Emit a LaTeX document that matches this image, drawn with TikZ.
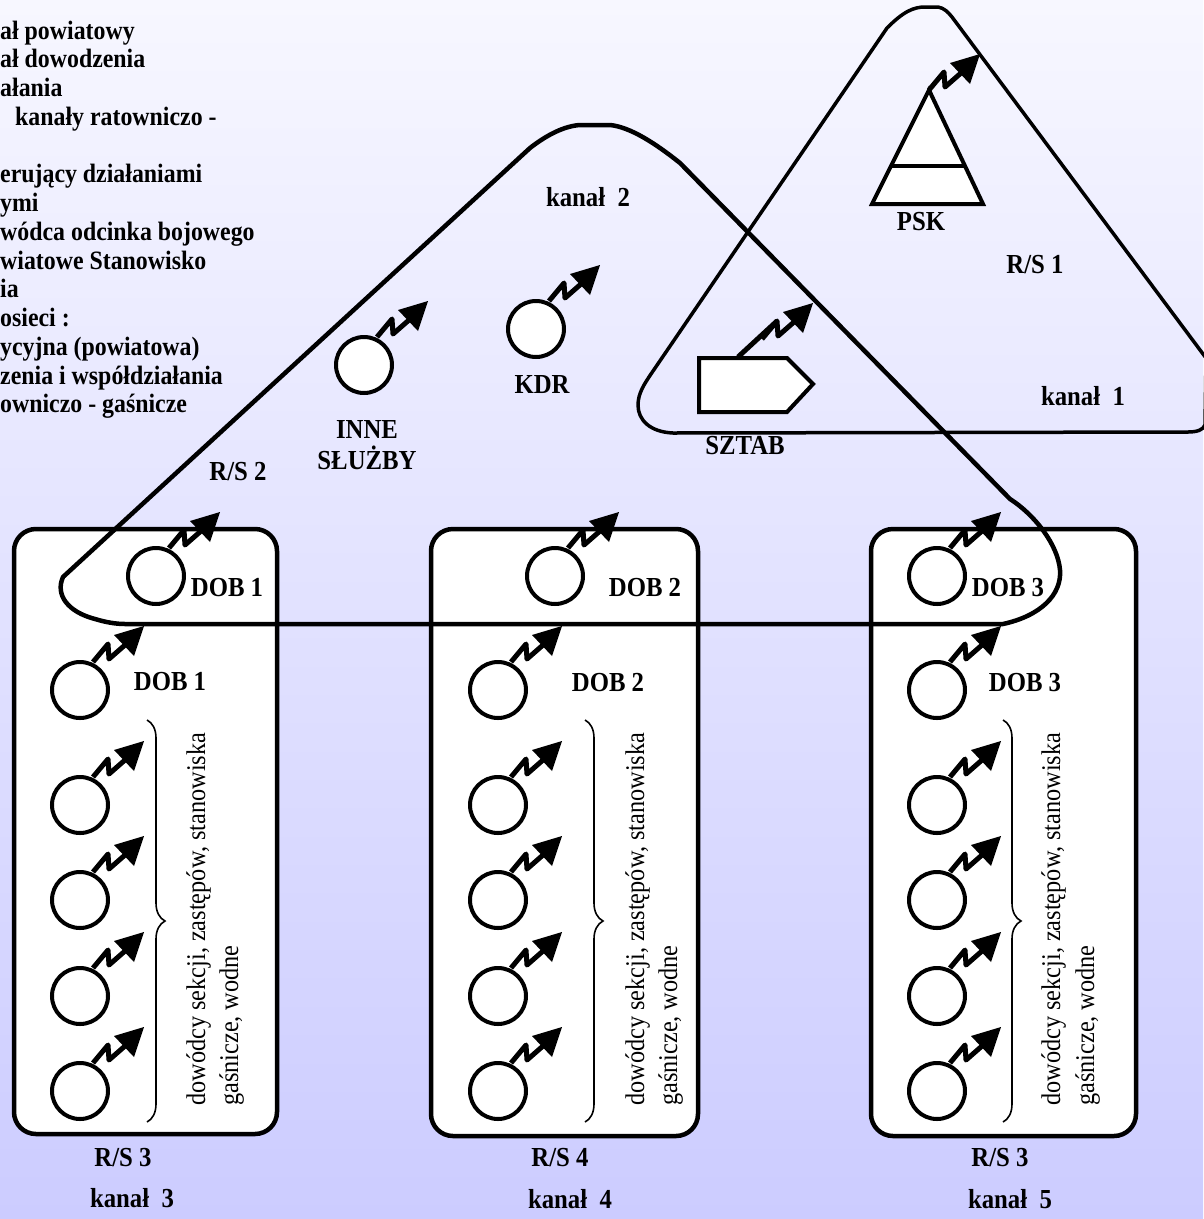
\documentclass[tikz,border=0pt]{standalone}
\usepackage{fontspec}
\setmainfont{Liberation Serif}[FakeStretch=0.9]
\usetikzlibrary{decorations.pathreplacing}
\definecolor{bgtop}{RGB}{247,247,255}
\definecolor{bgbot}{RGB}{204,204,255}
\tikzset{
  antenna/.pic={
    \draw[line width=5pt, line join=round] (0,0) -- (15,-18) -- (16,-3) -- (32,-17);
    \fill (51,-36) -- (41,-6) -- (21,-27) -- cycle;
  }
}
\begin{document}
\begin{tikzpicture}[x=1pt,y=-1pt,
  lab/.style={font=\fontsize{27.5}{30}\selectfont\bfseries, inner sep=0pt},
  leg/.style={font=\fontsize{26.5}{29}\selectfont\bfseries, inner sep=0pt, anchor=base west},
  rot/.style={font=\fontsize{27}{30}\selectfont, inner sep=0pt, rotate=90, anchor=base west},
  circ/.style={circle, draw, fill=white, line width=4pt, minimum size=56pt, inner sep=0pt},
  rsbox/.style={draw, fill=white, line width=4.5pt, rounded corners=22pt, inner sep=0pt},
  outline/.style={line width=4.5pt, line join=round},
  triline/.style={line width=3.5pt, line join=round},
  brc/.style={decorate, decoration={brace, amplitude=18pt}, line width=1.6pt},
  sym/.style={draw, fill=white, line width=4pt, line join=miter},
]
\useasboundingbox (0,0) rectangle (1203,1219);
\shade[top color=bgtop, bottom color=bgbot] (0,0) rectangle (1203,1219);

% legend (cropped at the left edge)
\node[leg] (leg1) at (0,39) {ał powiatowy};
\node[leg] (leg2) at (0,67.75) {ał dowodzenia};
\node[leg] (leg3) at (0,96.5) {ałania};
\node[leg] (leg4) at (15,125.25) {kanały ratowniczo -};
\node[leg] (leg5) at (0,182.75) {erujący działaniami};
\node[leg] (leg6) at (0,211.5) {ymi};
\node[leg] (leg7) at (0,240.25) {wódca odcinka bojowego};
\node[leg] (leg8) at (0,269) {wiatowe Stanowisko};
\node[leg] (leg9) at (0,297.75) {ia};
\node[leg] (leg10) at (0,326.5) {osieci :};
\node[leg] (leg11) at (0,355.25) {ycyjna (powiatowa)};
\node[leg] (leg12) at (0,384) {zenia i współdziałania};
\node[leg] (leg13) at (0,412.75) {owniczo - gaśnicze};

% R/S boxes
\node[rsbox, minimum width=263pt, minimum height=605pt] (box1) at (145.5,831.5) {};
\node[rsbox, minimum width=267pt, minimum height=607pt] (box2) at (564.5,832.5) {};
\node[rsbox, minimum width=265pt, minimum height=607pt] (box3) at (1003.5,832.5) {};

% R/S 1 outline (triangle)
\draw[triline] (887,28) .. controls (903,12) and (913,7) .. (925,7) -- (938,7)
  .. controls (944,8) and (948,12) .. (952,17) -- (1206,358) -- (1205,425)
  .. controls (1203,430) and (1197,432) .. (1188,432) -- (673,433)
  .. controls (650,432) and (638,420) .. (638,405)
  .. controls (638,393) and (645,383) .. (651,374) -- cycle;

% kanal 2 outline
\draw[outline] (125,624) -- (1003,624)
  .. controls (1040,616) and (1062,595) .. (1060,570)
  .. controls (1058,545) and (1035,515) .. (1010,499) -- (680,163)
  .. controls (655,143) and (630,127) .. (610,125) -- (580,125)
  .. controls (565,126) and (548,134) .. (530,148) -- (63,577)
  .. controls (55,595) and (68,612) .. (95,619)
  .. controls (105,622) and (115,624) .. (125,624) -- cycle;

% PSK symbol
\draw[sym] (929,90) -- (983,204) -- (872,204) -- cycle;
\draw[line width=4pt] (891,166) -- (965,166);
\coordinate (pskTop) at (929,90);
\pic at (pskTop) {antenna};
\node[lab] (psk) at (921,222) {PSK};

% SZTAB symbol
\draw[sym] (699,358) -- (787,358) -- (813,384) -- (787,412) -- (699,412) -- cycle;
\coordinate (sztabTop) at (738,357);
\coordinate (sztabAnt) at (762,339);
\draw[line width=5pt] (sztabTop) -- (777,321);
\pic at (sztabAnt) {antenna};
\node[lab] (sztab) at (745,446) {SZTAB};

% KDR and INNE SLUZBY
\node[circ] (kdr) at (536,329) {};
\node[circ] (inne) at (364,365) {};
\pic at ([shift={(13,-28)}]kdr.center) {antenna};
\pic at ([shift={(13,-28)}]inne.center) {antenna};
\node[lab] (kdrl) at (542,385) {KDR};
\node[lab] (innel) at (367,429) {INNE};
\node[lab] (sluzbyl) at (367,458) {SŁUŻBY};

% area labels
\node[lab] (k2) at (588,197) {kanał\ \ 2};
\node[lab] (rs1) at (1035,265) {R/S 1};
\node[lab] (k1) at (1083,396) {kanał\ \ 1};
\node[lab] (rs2) at (238,472) {R/S 2};

% box 1 circles
\node[circ] (a0) at (156,576) {};
\node[circ] (a1) at (80,690) {};
\node[circ] (a2) at (80,805) {};
\node[circ] (a3) at (80,900) {};
\node[circ] (a4) at (80,996) {};
\node[circ] (a5) at (80,1091) {};
% box 2 circles
\node[circ] (b0) at (555,576) {};
\node[circ] (b1) at (498,690) {};
\node[circ] (b2) at (498,805) {};
\node[circ] (b3) at (498,900) {};
\node[circ] (b4) at (498,996) {};
\node[circ] (b5) at (498,1091) {};
% box 3 circles
\node[circ] (c0) at (937,576) {};
\node[circ] (c1) at (937,690) {};
\node[circ] (c2) at (937,805) {};
\node[circ] (c3) at (937,900) {};
\node[circ] (c4) at (937,996) {};
\node[circ] (c5) at (937,1091) {};
\foreach \n in {a0,a1,a2,a3,a4,a5,b0,b1,b2,b3,b4,b5,c0,c1,c2,c3,c4,c5}{
  \pic at ([shift={(13,-28)}]\n.center) {antenna};
}

\node[lab] (la0) at (227,588) {DOB 1};
\node[lab] (la1) at (170,682) {DOB 1};
\node[lab] (lb0) at (645,588) {DOB 2};
\node[lab] (lb1) at (608,683) {DOB 2};
\node[lab] (lc0) at (1008,588) {DOB 3};
\node[lab] (lc1) at (1025,683) {DOB 3};

% braces
\coordinate (ba1) at (147,720); \coordinate (ba2) at (147,1122);
\coordinate (bb1) at (585,720); \coordinate (bb2) at (585,1122);
\coordinate (bc1) at (1003,720); \coordinate (bc2) at (1003,1122);
\draw[brc] (ba1) -- (ba2);
\draw[brc] (bb1) -- (bb2);
\draw[brc] (bc1) -- (bc2);

% rotated descriptions
\node[rot] (ta1) at (205,1106) {dowódcy sekcji, zastępów, stanowiska};
\node[rot] (ta2) at (238,1106) {gaśnicze, wodne};
\node[rot] (tb1) at (644,1106) {dowódcy sekcji, zastępów, stanowiska};
\node[rot] (tb2) at (677,1106) {gaśnicze, wodne};
\node[rot] (tc1) at (1060,1106) {dowódcy sekcji, zastępów, stanowiska};
\node[rot] (tc2) at (1094,1106) {gaśnicze, wodne};

% bottom labels
\node[lab] (rs3a) at (123,1158) {R/S 3};
\node[lab] (k3) at (132,1198) {kanał\ \ 3};
\node[lab] (rs4) at (560,1158) {R/S 4};
\node[lab] (k4) at (570,1199) {kanał\ \ 4};
\node[lab] (rs3b) at (1000,1158) {R/S 3};
\node[lab] (k5) at (1010,1199) {kanał\ \ 5};
\end{tikzpicture}
\end{document}
